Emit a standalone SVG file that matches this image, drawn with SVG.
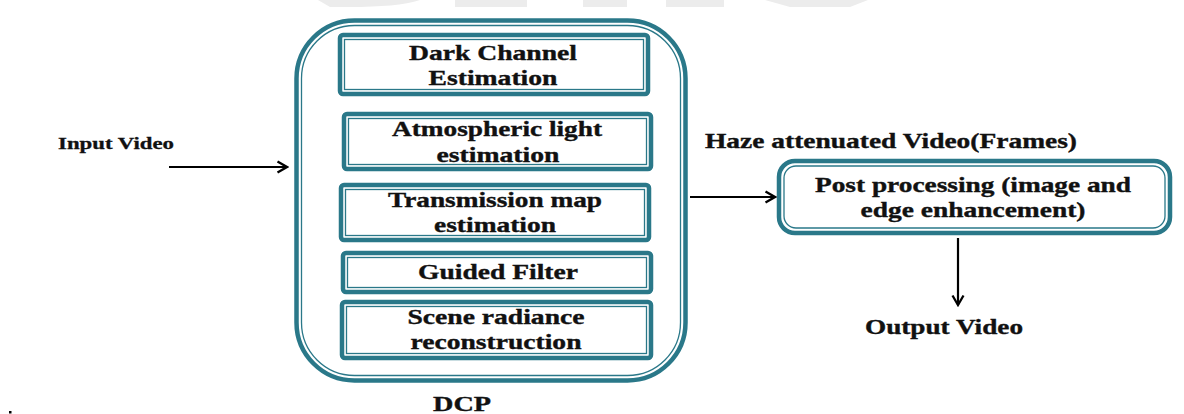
<svg xmlns="http://www.w3.org/2000/svg" width="1184" height="414" viewBox="0 0 1184 414">
  <defs>
    <style>
      .thick { fill: none; stroke: #2a7889; stroke-width: 4.5; }
      .thin { fill: none; stroke: #2a7889; stroke-width: 1.3; }
      .lbl { font-family: "Liberation Serif", "Times New Roman", serif; font-weight: bold; font-size: 20px; fill: #111; stroke: #111; stroke-width: 0.35; text-anchor: middle; }
      .side { font-family: "Liberation Serif", "Times New Roman", serif; font-weight: bold; font-size: 17px; fill: #111; stroke: #111; stroke-width: 0.3; }
      .wire { fill: none; stroke: #000; stroke-width: 2.2; }
      .mark { fill: #ececec; }
    </style>
    <marker id="head" viewBox="0 0 14 14" refX="12" refY="7" markerWidth="14" markerHeight="14" markerUnits="userSpaceOnUse" orient="auto">
      <path d="M2.5,1.5 L12,7 L2.5,12.5" fill="none" stroke="#000" stroke-width="2.3"/>
    </marker>
  </defs>

  <rect width="1184" height="414" fill="#fff"/>

  <!-- faint background lettering along the top edge -->
  <g id="backdrop">
    <path class="mark" d="M318,0 L420,0 C405,5 380,7 350,7 L330,7 Z"/>
    <rect class="mark" x="455" y="0" width="72" height="7"/>
    <rect class="mark" x="583" y="0" width="44" height="7"/>
    <rect class="mark" x="666" y="0" width="58" height="7"/>
    <path class="mark" d="M765,0 L868,0 L850,7 L790,7 Z"/>
  </g>

  <!-- DCP container -->
  <g id="dcp">
    <rect class="thick" x="296.5" y="20.5" width="389" height="360" rx="58"/>
    <rect class="thin" x="301.5" y="25.5" width="379" height="350" rx="53"/>
    <text class="lbl" x="462" y="411" textLength="58" lengthAdjust="spacingAndGlyphs">DCP</text>
  </g>

  <g id="dark-channel">
    <rect class="thick" x="340" y="35" width="308" height="59" rx="3"/>
    <rect class="thin" x="344.5" y="39.5" width="299" height="50"/>
    <text class="lbl" x="493" y="60" textLength="168" lengthAdjust="spacingAndGlyphs">Dark Channel</text>
    <text class="lbl" x="493" y="85" textLength="129" lengthAdjust="spacingAndGlyphs">Estimation</text>
  </g>

  <g id="atmospheric-light">
    <rect class="thick" x="344" y="114" width="307" height="55" rx="3"/>
    <rect class="thin" x="348.5" y="118.5" width="298" height="46"/>
    <text class="lbl" x="497" y="136" textLength="210" lengthAdjust="spacingAndGlyphs">Atmospheric light</text>
    <text class="lbl" x="498" y="162" textLength="123" lengthAdjust="spacingAndGlyphs">estimation</text>
  </g>

  <g id="transmission-map">
    <rect class="thick" x="341" y="185" width="308" height="55" rx="3"/>
    <rect class="thin" x="345.5" y="189.5" width="299" height="46"/>
    <text class="lbl" x="495" y="207" textLength="214" lengthAdjust="spacingAndGlyphs">Transmission map</text>
    <text class="lbl" x="495" y="232" textLength="122" lengthAdjust="spacingAndGlyphs">estimation</text>
  </g>

  <g id="guided-filter">
    <rect class="thick" x="343" y="253" width="308" height="39" rx="3"/>
    <rect class="thin" x="347.5" y="257.5" width="299" height="30"/>
    <text class="lbl" x="498" y="279" textLength="160" lengthAdjust="spacingAndGlyphs">Guided Filter</text>
  </g>

  <g id="scene-radiance">
    <rect class="thick" x="342" y="302" width="309" height="56" rx="3"/>
    <rect class="thin" x="346.5" y="306.5" width="300" height="47"/>
    <text class="lbl" x="496" y="324" textLength="177" lengthAdjust="spacingAndGlyphs">Scene radiance</text>
    <text class="lbl" x="496" y="349" textLength="171" lengthAdjust="spacingAndGlyphs">reconstruction</text>
  </g>

  <g id="post-processing">
    <rect class="thick" x="779" y="161" width="391" height="72" rx="16"/>
    <rect class="thin" x="784" y="166" width="381" height="62" rx="12"/>
    <text class="lbl" x="973" y="192" textLength="316" lengthAdjust="spacingAndGlyphs">Post processing (image and</text>
    <text class="lbl" x="973" y="217" textLength="225" lengthAdjust="spacingAndGlyphs">edge enhancement)</text>
  </g>

  <g id="input-video">
    <text class="side" x="58" y="149" textLength="116" lengthAdjust="spacingAndGlyphs">Input Video</text>
  </g>

  <g id="haze-label">
    <text class="lbl" x="891" y="148" textLength="372" lengthAdjust="spacingAndGlyphs">Haze attenuated Video(Frames)</text>
  </g>

  <g id="output-video">
    <text class="lbl" x="944" y="334" textLength="158" lengthAdjust="spacingAndGlyphs">Output Video</text>
  </g>

  <!-- connectors -->
  <g id="connectors">
    <line class="wire" x1="169" y1="167" x2="287" y2="167" marker-end="url(#head)"/>
    <line class="wire" x1="690" y1="197" x2="775" y2="197" marker-end="url(#head)"/>
    <line class="wire" x1="958" y1="238" x2="958" y2="305" stroke-width="2.6" marker-end="url(#head)"/>
  </g>

  <rect x="9" y="411" width="2.5" height="2.5" fill="#000"/>
</svg>
